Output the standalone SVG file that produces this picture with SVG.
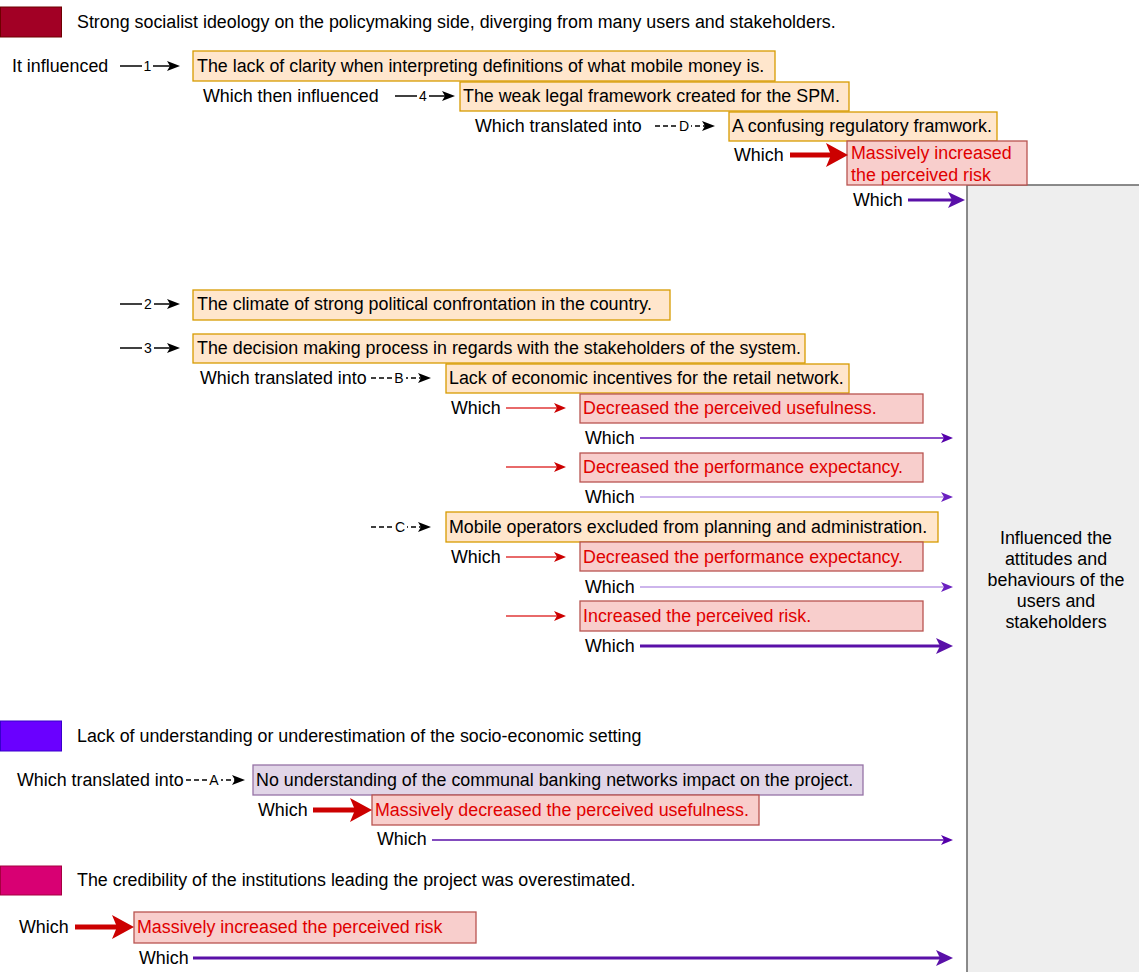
<svg xmlns="http://www.w3.org/2000/svg" width="1139" height="972" viewBox="0 0 1139 972">
<style>
.t{font-family:"Liberation Sans",Arial,Helvetica,sans-serif;font-size:17.85px;fill:#000;dominant-baseline:central}
.r{fill:#e00000}
.c{text-anchor:middle}
.lbl{font-family:"Liberation Sans",Arial,Helvetica,sans-serif;font-size:14px;fill:#000;dominant-baseline:central;text-anchor:middle}
.ob{fill:#ffe6cc;stroke:#d79b00;stroke-width:1.3}
.rb{fill:#f8cecc;stroke:#b85450;stroke-width:1.3}
.pb{fill:#e1d5e7;stroke:#9673a6;stroke-width:1.3}
.gb{fill:#eeeeee;stroke:#6f6f6f;stroke-width:1.6}
.k{stroke:#000;stroke-width:1.3;fill:none}
.kd{stroke:#000;stroke-width:1.3;fill:none;stroke-dasharray:5 3}
.rt{stroke:#e86a6a;stroke-width:2;fill:none}
.rk{stroke:#cc0000;stroke-width:5;fill:none}
.p1{stroke:#8a4cc8;stroke-width:2;fill:none}
.p2{stroke:#cdb5ec;stroke-width:2;fill:none}
.p3{stroke:#5a10a8;stroke-width:3;fill:none}
.p4{stroke:#5a10a8;stroke-width:1.6;fill:none}
.lb{fill:#fff}
</style>
<defs>
<marker id="mk" markerUnits="userSpaceOnUse" markerWidth="13" markerHeight="10" refX="3" refY="5" orient="auto"><path d="M0,0 L13,5 L0,10 L3,5 Z" fill="#000"/></marker>
<marker id="mr" markerUnits="userSpaceOnUse" markerWidth="12" markerHeight="10" refX="3" refY="5" orient="auto"><path d="M0,0 L12,5 L0,10 L3,5 Z" fill="#cc0000"/></marker>
<marker id="mR" markerUnits="userSpaceOnUse" markerWidth="22" markerHeight="24" refX="5" refY="12" orient="auto"><path d="M0,0 L22,12 L0,24 L5,12 Z" fill="#cc0000"/></marker>
<marker id="mp" markerUnits="userSpaceOnUse" markerWidth="12" markerHeight="10" refX="3" refY="5" orient="auto"><path d="M0,0 L12,5 L0,10 L3,5 Z" fill="#5500aa"/></marker>
<marker id="mpl" markerUnits="userSpaceOnUse" markerWidth="12" markerHeight="10" refX="3" refY="5" orient="auto"><path d="M0,0 L12,5 L0,10 L3,5 Z" fill="#6a20c0"/></marker>
<marker id="mP" markerUnits="userSpaceOnUse" markerWidth="17" markerHeight="16" refX="4" refY="8" orient="auto"><path d="M0,0 L17,8 L0,16 L4,8 Z" fill="#5a10a8"/></marker>
</defs>

<!-- legends -->
<g id="legend-socialist"><rect x="0.5" y="7" width="61" height="30" fill="#a20025" stroke="#6f0000"/><text class="t" x="77" y="22">Strong socialist ideology on the policymaking side, diverging from many users and stakeholders.</text></g>
<g id="legend-socio"><rect x="0.5" y="721" width="61" height="30" fill="#6a00ff" stroke="#3700cc"/><text class="t" x="77" y="736">Lack of understanding or underestimation of the socio-economic setting</text></g>
<g id="legend-credibility"><rect x="0.5" y="866" width="61" height="29" fill="#d80073" stroke="#a50040"/><text class="t" x="77" y="880">The credibility of the institutions leading the project was overestimated.</text></g>

<!-- target -->
<g id="target"><rect class="gb" x="967" y="185" width="190" height="800"/>
<text class="t c" x="1056" y="538">Influenced the</text>
<text class="t c" x="1056" y="559">attitudes and</text>
<text class="t c" x="1056" y="580">behaviours of the</text>
<text class="t c" x="1056" y="601">users and</text>
<text class="t c" x="1056" y="622">stakeholders</text></g>

<!-- nodes -->
<g id="n-clarity"><rect class="ob" x="193" y="51" width="582" height="30"/><text class="t" x="197" y="66">The lack of clarity when interpreting definitions of what mobile money is.</text></g>
<g id="n-legal"><rect class="ob" x="460" y="82" width="389" height="29"/><text class="t" x="463" y="96">The weak legal framework created for the SPM.</text></g>
<g id="n-regulatory"><rect class="ob" x="729" y="112" width="268" height="29"/><text class="t" x="732" y="126">A confusing regulatory framwork.</text></g>
<g id="n-risk1"><rect class="rb" x="847" y="141" width="180" height="44"/><text class="t r" x="851" y="153">Massively increased</text><text class="t r" x="851" y="175">the perceived risk</text></g>
<g id="n-climate"><rect class="ob" x="193" y="290" width="477" height="30"/><text class="t" x="197" y="304">The climate of strong political confrontation in the country.</text></g>
<g id="n-decision"><rect class="ob" x="193" y="334" width="612" height="29"/><text class="t" x="197" y="348">The decision making process in regards with the stakeholders of the system.</text></g>
<g id="n-incentives"><rect class="ob" x="446" y="364" width="403" height="29"/><text class="t" x="449" y="378">Lack of economic incentives for the retail network.</text></g>
<g id="n-usefulness1"><rect class="rb" x="580" y="394" width="343" height="29"/><text class="t r" x="583" y="408">Decreased the perceived usefulness.</text></g>
<g id="n-perf1"><rect class="rb" x="580" y="453" width="343" height="29"/><text class="t r" x="583" y="467">Decreased the performance expectancy.</text></g>
<g id="n-operators"><rect class="ob" x="446" y="512" width="492" height="30"/><text class="t" x="449" y="527">Mobile operators excluded from planning and administration.</text></g>
<g id="n-perf2"><rect class="rb" x="580" y="542" width="343" height="29"/><text class="t r" x="583" y="557">Decreased the performance expectancy.</text></g>
<g id="n-risk2"><rect class="rb" x="580" y="601" width="343" height="30"/><text class="t r" x="583" y="616">Increased the perceived risk.</text></g>
<g id="n-communal"><rect class="pb" x="253" y="765" width="610" height="30"/><text class="t" x="256" y="780">No understanding of the communal banking networks impact on the project.</text></g>
<g id="n-usefulness2"><rect class="rb" x="372" y="795" width="387" height="30"/><text class="t r" x="375" y="810">Massively decreased the perceived usefulness.</text></g>
<g id="n-risk3"><rect class="rb" x="134" y="912" width="342" height="31"/><text class="t r" x="137" y="927">Massively increased the perceived risk</text></g>

<!-- connector texts -->
<g id="phrases">
<text class="t" x="12" y="66">It influenced</text>
<text class="t" x="203" y="96">Which then influenced</text>
<text class="t" x="475" y="126">Which translated into</text>
<text class="t" x="734" y="155">Which</text>
<text class="t" x="853" y="200">Which</text>
<text class="t" x="200" y="378">Which translated into</text>
<text class="t" x="451" y="408">Which</text>
<text class="t" x="585" y="438">Which</text>
<text class="t" x="585" y="497">Which</text>
<text class="t" x="451" y="557">Which</text>
<text class="t" x="585" y="587">Which</text>
<text class="t" x="585" y="646">Which</text>
<text class="t" x="17" y="780">Which translated into</text>
<text class="t" x="258" y="810">Which</text>
<text class="t" x="377" y="839">Which</text>
<text class="t" x="19" y="927">Which</text>
<text class="t" x="139" y="958">Which</text>
</g>

<!-- connectors -->
<g id="connectors">
<line class="k" x1="120" y1="66" x2="170" y2="66" marker-end="url(#mk)"/>
<line class="k" x1="395" y1="96" x2="445" y2="96" marker-end="url(#mk)"/>
<line class="kd" x1="655" y1="126" x2="705" y2="126" marker-end="url(#mk)"/>
<line class="k" x1="120" y1="304" x2="170" y2="304" marker-end="url(#mk)"/>
<line class="k" x1="120" y1="348" x2="170" y2="348" marker-end="url(#mk)"/>
<line class="kd" x1="371" y1="378" x2="421" y2="378" marker-end="url(#mk)"/>
<line class="kd" x1="371" y1="527" x2="421" y2="527" marker-end="url(#mk)"/>
<line class="kd" x1="186" y1="780" x2="235" y2="780" marker-end="url(#mk)"/>

<rect class="lb" x="142" y="58" width="11" height="16"/><text class="lbl" x="147.5" y="66">1</text>
<rect class="lb" x="417" y="88" width="12" height="16"/><text class="lbl" x="423" y="96">4</text>
<rect class="lb" x="677" y="118" width="14" height="16"/><text class="lbl" x="684" y="126">D</text>
<rect class="lb" x="142" y="296" width="12" height="16"/><text class="lbl" x="148" y="304">2</text>
<rect class="lb" x="142" y="340" width="12" height="16"/><text class="lbl" x="148" y="348">3</text>
<rect class="lb" x="392" y="370" width="14" height="16"/><text class="lbl" x="399" y="378">B</text>
<rect class="lb" x="393" y="519" width="14" height="16"/><text class="lbl" x="400" y="527">C</text>
<rect class="lb" x="207" y="772" width="14" height="16"/><text class="lbl" x="214" y="780">A</text>

<line class="rk" x1="790" y1="155" x2="831" y2="155" marker-end="url(#mR)"/>
<line class="rk" x1="313" y1="810" x2="355" y2="810" marker-end="url(#mR)"/>
<line class="rk" x1="75" y1="927" x2="117" y2="927" marker-end="url(#mR)"/>

<line class="rt" x1="506" y1="408" x2="557" y2="408" marker-end="url(#mr)"/>
<line class="rt" x1="506" y1="467" x2="557" y2="467" marker-end="url(#mr)"/>
<line class="rt" x1="506" y1="557" x2="557" y2="557" marker-end="url(#mr)"/>
<line class="rt" x1="506" y1="616" x2="557" y2="616" marker-end="url(#mr)"/>

<line class="p3" x1="908" y1="200" x2="952" y2="200" marker-end="url(#mP)"/>
<line class="p1" x1="640" y1="438" x2="944" y2="438" marker-end="url(#mp)"/>
<line class="p2" x1="640" y1="497" x2="944" y2="497" marker-end="url(#mpl)"/>
<line class="p2" x1="640" y1="587" x2="944" y2="587" marker-end="url(#mpl)"/>
<line class="p3" x1="640" y1="646" x2="940" y2="646" marker-end="url(#mP)"/>
<line class="p4" x1="432" y1="840" x2="944" y2="840" marker-end="url(#mp)"/>
<line class="p3" x1="193" y1="958" x2="940" y2="958" marker-end="url(#mP)"/>
</g>
</svg>
